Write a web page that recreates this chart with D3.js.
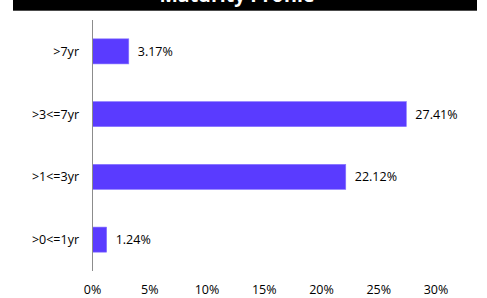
<!DOCTYPE html>
<html><head><meta charset="utf-8">
<script src="https://cdn.jsdelivr.net/npm/d3@7"></script>
<style>body{margin:0;background:#fff;}svg{display:block;}</style>
</head><body>
<svg id="c" width="487" height="298"></svg>
<script>
const title = "Maturity Profile";
const categories = [">7yr", ">3<=7yr", ">1<=3yr", ">0<=1yr"];
const values = [3.17, 27.41, 22.12, 1.24];
const tickValues = [0, 5, 10, 15, 20, 25, 30];

const svg = d3.select("#c");
const font = "'Open Sans', 'Noto Sans', sans-serif";
const fs = 12.5;

svg.append("rect").attr("x", 13).attr("y", 0).attr("width", 464).attr("height", 10.7).attr("fill", "#000");
svg.append("text").attr("x", 237).attr("y", 2).attr("text-anchor", "middle")
  .attr("font-family", font).attr("font-weight", "bold").attr("font-size", 19.5).attr("fill", "#fff").text(title);

const x = d3.scaleLinear().domain([0, 30]).range([92.5, 436]);
const y = d3.scaleBand().domain(categories).range([20, 271]).paddingInner(0.6).paddingOuter(0.3);

svg.selectAll("rect.bar").data(categories).join("rect").attr("class", "bar")
  .attr("x", x(0)).attr("y", d => y(d))
  .attr("width", (d, i) => x(values[i]) - x(0)).attr("height", y.bandwidth())
  .attr("fill", "#5a3bff").attr("stroke", "#8a78ff").attr("stroke-width", 0.6);

svg.append("line").attr("x1", x(0)).attr("x2", x(0)).attr("y1", 20).attr("y2", 271)
  .attr("stroke", "#8c8c8c").attr("stroke-width", 1);

svg.selectAll("text.val").data(categories).join("text").attr("class", "val")
  .attr("x", (d, i) => x(values[i]) + 9).attr("y", d => y(d) + y.bandwidth() / 2)
  .attr("dy", "0.35em").attr("font-family", font).attr("font-size", fs).attr("fill", "#000")
  .text((d, i) => values[i].toFixed(2) + "%");

svg.selectAll("text.cat").data(categories).join("text").attr("class", "cat")
  .attr("x", 79).attr("y", d => y(d) + y.bandwidth() / 2).attr("text-anchor", "end")
  .attr("dy", "0.35em").attr("font-family", font).attr("font-size", fs).attr("fill", "#000")
  .text(d => d);

svg.selectAll("text.tick").data(tickValues).join("text").attr("class", "tick")
  .attr("x", d => x(d)).attr("y", 290).attr("text-anchor", "middle").attr("dy", "0.35em")
  .attr("font-family", font).attr("font-size", fs).attr("fill", "#000")
  .text(d => d + "%");
</script>
</body></html>
